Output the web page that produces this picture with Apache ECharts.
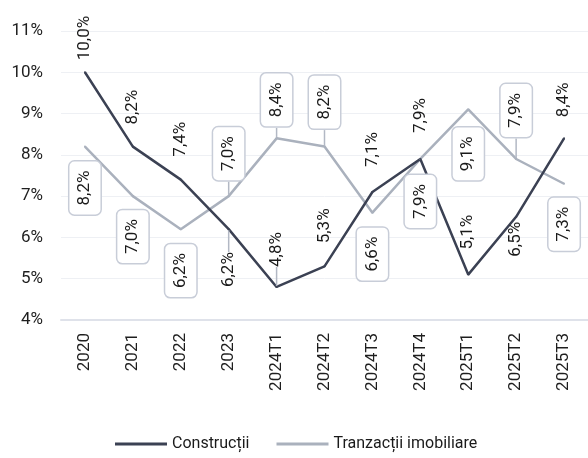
<!DOCTYPE html>
<html>
<head>
<meta charset="utf-8">
<script src="https://cdn.jsdelivr.net/npm/echarts@6/dist/echarts.min.js"></script>
<style>
  html, body { margin: 0; padding: 0; background: #fff; }
  #chart { width: 588px; height: 458px; }
</style>
</head>
<body>
<div id="chart"></div>
<script>
  var categories = ['2020', '2021', '2022', '2023', '2024T1', '2024T2', '2024T3', '2024T4', '2025T1', '2025T2', '2025T3'];
  var constructii = [10.0, 8.2, 7.4, 6.2, 4.8, 5.3, 7.1, 7.9, 5.1, 6.5, 8.4];
  var tranzactii = [8.2, 7.0, 6.2, 7.0, 8.4, 8.2, 6.6, 7.9, 9.1, 7.9, 7.3];
  var yMin = 4, yMax = 11, yStep = 1;

  // where each value label sits (and whether it gets a guide line)
  var constrPos = ['top', 'top', 'top', 'bottom', 'top', 'top', 'top', 'top', 'top', 'bottom', 'top'];
  var constrGap = [11, 21, 22, 22, 19, 22, 24, 25, 24, 4, 20];
  var constrGuide = [0, 0, 0, 1, 1, 0, 0, 0, 0, 0, 0];
  var tranzPos = ['bottom', 'bottom', 'bottom', 'top', 'top', 'top', 'bottom', 'bottom', 'bottom', 'top', 'bottom'];
  var tranzGap = [14, 13, 14, 15, 11, 17, 14, 15, 17, 21, 13];
  var tranzGuide = [0, 0, 0, 1, 1, 1, 0, 0, 0, 1, 0];

  var darkColor = '#3b4153';
  var lightColor = '#aab1bd';

  function buildItems(values, pos, gap, guide) {
    return values.map(function (v, i) {
      var up = pos[i] === 'top';
      return {
        value: v,
        label: { position: pos[i], align: up ? 'left' : 'right', distance: gap[i] },
        labelLine: { show: !!guide[i] }
      };
    });
  }

  function fmt(p) {
    return p.value.toFixed(1).replace('.', ',') + '%';
  }

  var chart = echarts.init(document.getElementById('chart'));
  chart.setOption({
    animation: false,
    backgroundColor: '#fff',
    textStyle: { fontFamily: 'Roboto' },
    grid: { left: 61, right: -4, top: 31, bottom: 138, containLabel: false },
    legend: {
      left: 110,
      top: 431,
      icon: 'rect',
      itemWidth: 52,
      itemHeight: 3,
      itemGap: 27,
      textStyle: { fontSize: 16, color: '#1a1a1a', fontFamily: 'Roboto' },
      data: ['Construcții', 'Tranzacții imobiliare']
    },
    xAxis: {
      type: 'category',
      data: categories,
      boundaryGap: true,
      axisTick: { show: false },
      axisLine: { show: true, lineStyle: { color: '#dfe2ea', width: 2 } },
      axisLabel: { rotate: 90, margin: 13, fontSize: 17, color: '#1e1e1e', fontFamily: 'Roboto' }
    },
    yAxis: {
      type: 'value',
      min: yMin,
      max: yMax,
      interval: yStep,
      axisLine: { show: false },
      axisTick: { show: false },
      axisLabel: { margin: 18, fontSize: 17, color: '#1e1e1e', fontFamily: 'Roboto', formatter: '{value}%' },
      splitLine: { lineStyle: { color: '#eef0f4', width: 1 } }
    },
    series: [
      {
        name: 'Tranzacții imobiliare',
        type: 'line',
        data: buildItems(tranzactii, tranzPos, tranzGap, tranzGuide),
        symbol: 'circle',
        symbolSize: 2,
        color: lightColor,
        lineStyle: { color: lightColor, width: 2.5 },
        label: {
          show: true,
          rotate: 90,
          verticalAlign: 'middle',
          formatter: fmt,
          fontSize: 17,
          fontFamily: 'Roboto',
          color: '#1a1a1a',
          backgroundColor: '#fff',
          borderColor: '#c8cdd8',
          borderWidth: 1.5,
          borderRadius: 5,
          padding: [7, 9]
        },
        labelLine: { lineStyle: { color: '#b2b8c4', width: 1.5 } }
      },
      {
        name: 'Construcții',
        type: 'line',
        data: buildItems(constructii, constrPos, constrGap, constrGuide),
        symbol: 'circle',
        symbolSize: 2,
        color: darkColor,
        lineStyle: { color: darkColor, width: 2.5 },
        label: {
          show: true,
          rotate: 90,
          verticalAlign: 'middle',
          formatter: fmt,
          fontSize: 17,
          fontFamily: 'Roboto',
          color: '#1a1a1a'
        },
        labelLine: { lineStyle: { color: '#b2b8c4', width: 1.5 } }
      }
    ]
  });
</script>
</body>
</html>
